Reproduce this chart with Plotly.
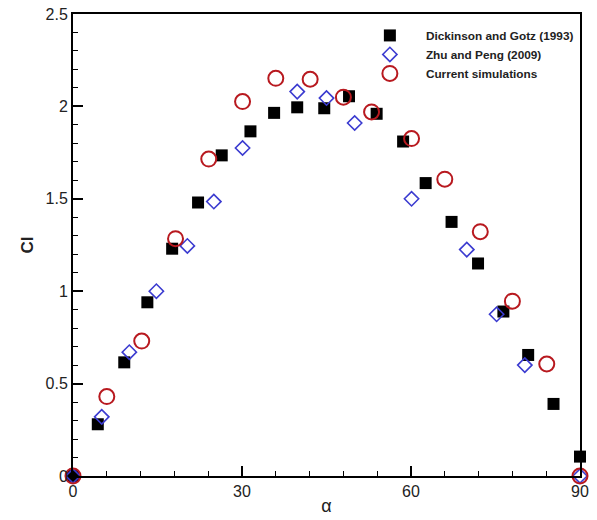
import plotly.graph_objects as go

# Dickinson and Gotz (1993)
dg_alpha = [0, 4.4, 9.1, 13.2, 17.6, 22.2, 26.4, 31.5, 35.7, 39.8, 44.6, 49.0, 53.9, 58.6, 62.6, 67.2, 71.9, 76.4, 80.8, 85.3, 90]
dg_cl = [0.0, 0.28, 0.615, 0.94, 1.23, 1.48, 1.735, 1.865, 1.965, 1.995, 1.99, 2.055, 1.96, 1.81, 1.585, 1.375, 1.15, 0.89, 0.655, 0.39, 0.105]

# Zhu and Peng (2009)
zp_alpha = [0, 5.1, 10.0, 14.8, 20.3, 25.0, 30.1, 39.8, 45.0, 50.0, 60.1, 69.9, 75.2, 80.2, 90]
zp_cl = [0.0, 0.32, 0.67, 1.0, 1.245, 1.485, 1.775, 2.08, 2.045, 1.91, 1.5, 1.225, 0.875, 0.6, 0.0]

# Current simulations
cs_alpha = [0, 6.0, 12.2, 18.2, 24.1, 30.1, 36.0, 42.1, 48.0, 53.0, 60.1, 66.0, 72.3, 78.0, 84.1, 90]
cs_cl = [0.0, 0.43, 0.73, 1.284, 1.715, 2.026, 2.152, 2.147, 2.05, 1.97, 1.826, 1.606, 1.322, 0.946, 0.606, 0.0]

x_ticks = [0, 30, 60, 90]
y_ticks = [0, 0.5, 1, 1.5, 2, 2.5]
y_ticklabels = ["0", "0.5", "1", "1.5", "2", "2.5"]

FONT = "Arial, Liberation Sans, sans-serif"

fig = go.Figure()
fig.add_trace(go.Scatter(
    x=dg_alpha, y=dg_cl, mode="markers", name="<b>Dickinson and Gotz (1993)</b>",
    marker=dict(symbol="square", size=12, color="black", line=dict(width=0)),
    cliponaxis=False,
))
fig.add_trace(go.Scatter(
    x=zp_alpha, y=zp_cl, mode="markers", name="<b>Zhu and Peng (2009)</b>",
    marker=dict(symbol="diamond-open", size=11, color="#3b3bd0", line=dict(width=1.6, color="#3b3bd0")),
    cliponaxis=False,
))
fig.add_trace(go.Scatter(
    x=cs_alpha, y=cs_cl, mode="markers", name="<b>Current simulations</b>",
    marker=dict(symbol="circle-open", size=15, color="#b8191f", line=dict(width=2, color="#b8191f")),
    cliponaxis=False,
))

fig.update_layout(
    width=597, height=520,
    margin=dict(l=73, r=17, t=14, b=44),
    paper_bgcolor="white", plot_bgcolor="white",
    font=dict(family=FONT, color="black", size=16),
    showlegend=True,
    legend=dict(
        x=0.554, y=0.985, xanchor="left", yanchor="top",
        bgcolor="rgba(0,0,0,0)", borderwidth=0,
        font=dict(family=FONT, size=11.8, color="#222"),
        tracegroupgap=0, itemsizing="trace", itemwidth=62,
    ),
    xaxis=dict(
        range=[0, 90], tickmode="array", tickvals=x_ticks, automargin=False,
        showgrid=False, zeroline=False,
        showline=True, linecolor="black", linewidth=2, mirror=True,
        ticks="inside", ticklen=10, tickwidth=2, tickcolor="black",
        minor=dict(ticks="inside", ticklen=5, tickwidth=1, tickcolor="black", dtick=6, showgrid=False),
        tickfont=dict(size=16, color="#222"),
        title=dict(text="α", font=dict(size=18, color="#222"), standoff=0),
    ),
    yaxis=dict(
        range=[0, 2.5], tickmode="array", tickvals=y_ticks, ticktext=y_ticklabels, automargin=False,
        showgrid=False, zeroline=False,
        showline=True, linecolor="black", linewidth=2, mirror=True,
        ticks="inside", ticklen=10, tickwidth=2, tickcolor="black",
        minor=dict(ticks="inside", ticklen=5, tickwidth=1, tickcolor="black", dtick=0.1, showgrid=False),
        tickfont=dict(size=16, color="#222"),
        title=dict(text="<b>Cl</b>", font=dict(size=17, color="#222"), standoff=8),
    ),
)

fig.write_html("out.html")
